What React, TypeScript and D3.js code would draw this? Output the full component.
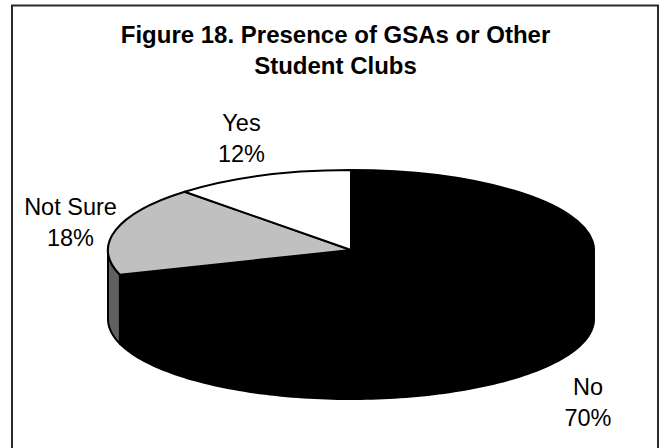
import React from "react";
import * as d3 from "d3";

const categories = ["No", "Not Sure", "Yes"];
const shares = [70, 18, 12];
const topFills = ["#000000", "#c0c0c0", "#ffffff"];
const wallFills = ["#000000", "#606060", "#808080"];
const titleLines = ["Figure 18. Presence of GSAs or Other", "Student Clubs"];

const WIDTH = 661;
const HEIGHT = 448;
const cx = 351;
const cy = 250;
const rx = 243;
const ry = 80;
const depth = 69;

const labelAnchors = [
  { x: 588, y: 395 },
  { x: 70.5, y: 215 },
  { x: 241.5, y: 131 },
];

const slices = d3.pie<number>().sort(null).value((d) => d)(shares);
const arcGen = d3.arc<d3.PieArcDatum<number>>().innerRadius(0).outerRadius(rx);

// Visible wall of a slice: the part of its rim on the front half of the ellipse.
function wallPath(start: number, end: number): string | null {
  const from = Math.max(start, Math.PI / 2);
  const to = Math.min(end, (3 * Math.PI) / 2);
  if (to <= from) return null;
  const angles = d3.range(0, 121).map((i) => from + ((to - from) * i) / 120);
  const rim = angles.map((a) => [rx * Math.sin(a), -ry * Math.cos(a)] as [number, number]);
  const line = d3.line();
  const lower = rim.map(([x, y]) => [x, y + depth] as [number, number]).reverse();
  return line([...rim, ...lower]) + "Z";
}

export default function App() {
  return (
    <svg
      width={WIDTH}
      height={HEIGHT}
      viewBox={`0 0 ${WIDTH} ${HEIGHT}`}
      style={{ position: "absolute", left: 0, top: 0, background: "#fff" }}
      fontFamily='"Liberation Sans", Arial, sans-serif'
    >
      {/* Frame runs off the lower edge of the canvas */}
      <path d={`M12,${HEIGHT + 2}V5.5H658V${HEIGHT + 2}`} fill="#fff" stroke="#2a2a2a" strokeWidth={2} />

      {titleLines.map((t, i) => (
        <text key={t} x={335.5} y={43 + i * 31} textAnchor="middle" fontSize={24} fontWeight={700} fill="#000">
          {t}
        </text>
      ))}

      <g transform={`translate(${cx},${cy})`}>
        {slices.map((s, i) => {
          const d = wallPath(s.startAngle, s.endAngle);
          return d ? (
            <path key={categories[i]} d={d} fill={wallFills[i]} stroke="#000" strokeWidth={2} strokeLinejoin="round" />
          ) : null;
        })}
        <g transform={`scale(1,${ry / rx})`}>
          {slices.map((s, i) => (
            <path
              key={categories[i]}
              d={arcGen(s) as string}
              fill={topFills[i]}
              stroke="#000"
              strokeWidth={2}
              strokeLinejoin="round"
              vectorEffect="non-scaling-stroke"
            />
          ))}
        </g>
      </g>

      {categories.map((c, i) => (
        <text key={c} textAnchor="middle" fontSize={23.5} fill="#000">
          <tspan x={labelAnchors[i].x} y={labelAnchors[i].y}>{c}</tspan>
          <tspan x={labelAnchors[i].x} y={labelAnchors[i].y + 30.5}>{shares[i]}%</tspan>
        </text>
      ))}
    </svg>
  );
}
